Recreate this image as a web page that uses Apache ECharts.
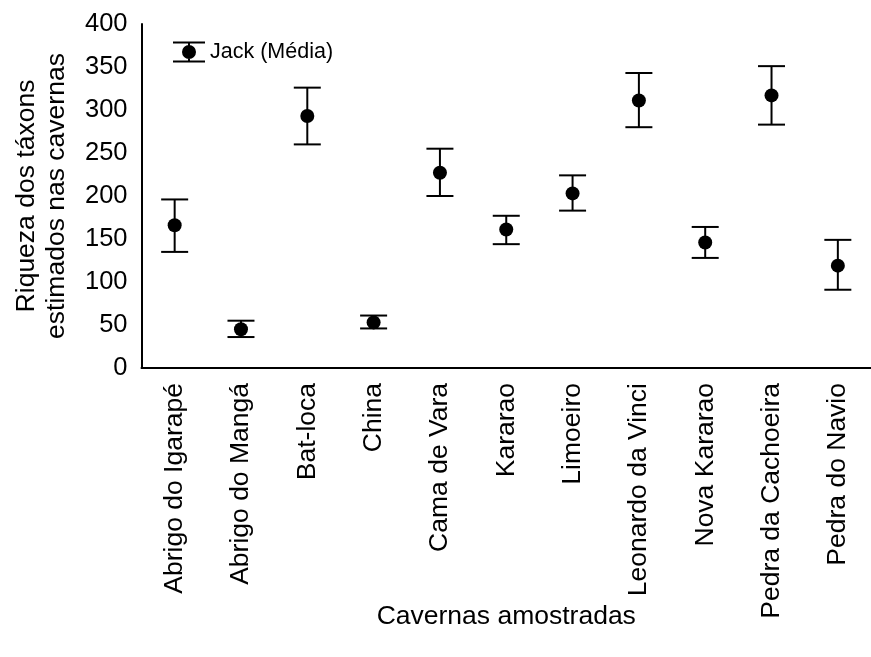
<!DOCTYPE html>
<html>
<head>
<meta charset="utf-8">
<script src="https://cdn.jsdelivr.net/npm/echarts@6/dist/echarts.min.js"></script>
<style>
  html, body { margin: 0; padding: 0; background: #fff; }
  #chart { width: 871px; height: 657px; }
</style>
</head>
<body>
<div id="chart"></div>
<script>
const categories = [
  "Abrigo do Igarapé", "Abrigo do Mangá", "Bat-loca", "China", "Cama de Vara",
  "Kararao", "Limoeiro", "Leonardo da Vinci", "Nova Kararao", "Pedra da Cachoeira", "Pedra do Navio",
];
const meanValues = [166, 45, 293, 53, 227, 161, 203, 311, 146, 317, 119];
const upperValues = [196, 55, 326, 61, 255, 177, 224, 343, 164, 351, 149];
const lowerValues = [135, 36, 260, 46, 200, 144, 183, 280, 128, 283, 91];
const yTicks = [0, 50, 100, 150, 200, 250, 300, 350, 400];

const FONT = "'Liberation Sans', Arial, sans-serif";
// caps, short stem pieces and the dot, drawn as filled shapes
const legendIcon =
  "path://M0,0h32v2H0z M0,19h32v2H0z M15,0h2v4h-2z M15,17h2v4h-2z M9,10.5a7,7 0 1,1 14,0a7,7 0 1,1 -14,0z";

function renderErrorBar(params, api) {
  const idx = api.value(0);
  const low = api.coord([idx, api.value(1)]);
  const high = api.coord([idx, api.value(2)]);
  const half = 13.5;
  const style = { stroke: "#000", lineWidth: 2 };
  return {
    type: "group",
    children: [
      { type: "line", shape: { x1: low[0], y1: low[1], x2: high[0], y2: high[1] }, style },
      { type: "line", shape: { x1: high[0] - half, y1: high[1], x2: high[0] + half, y2: high[1] }, style },
      { type: "line", shape: { x1: low[0] - half, y1: low[1], x2: low[0] + half, y2: low[1] }, style },
    ],
  };
}

const chart = echarts.init(document.getElementById("chart"), null, { renderer: "canvas" });

chart.setOption({
  animation: false,
  backgroundColor: "#fff",
  textStyle: { fontFamily: FONT, color: "#000" },
  grid: { left: 141.5, right: -12, top: 24, bottom: 289, containLabel: false },
  legend: {
    left: 168,
    top: 36,
    itemWidth: 32,
    itemHeight: 21,
    data: [{ name: "Jack (Média)", icon: legendIcon }],
    textStyle: { fontFamily: FONT, fontSize: 21.5, color: "#000" },
    itemStyle: { color: "#000", opacity: 1 },
  },
  xAxis: {
    type: "category",
    data: categories,
    name: "Cavernas amostradas",
    nameLocation: "middle",
    nameGap: 235,
    nameMoveOverlap: false,
    nameTextStyle: { fontFamily: FONT, fontSize: 26.5, color: "#000" },
    axisLine: { lineStyle: { color: "#000", width: 2 } },
    axisTick: { show: false },
    axisLabel: { rotate: 90, interval: 0, margin: 15, fontFamily: FONT, fontSize: 26.5, color: "#000" },
    splitLine: { show: false },
  },
  yAxis: {
    type: "value",
    min: yTicks[0],
    max: yTicks[yTicks.length - 1],
    interval: yTicks[1] - yTicks[0],
    name: "Riqueza dos táxons\nestimados nas cavernas",
    nameLocation: "middle",
    nameGap: 70,
    nameMoveOverlap: false,
    nameTextStyle: { fontFamily: FONT, fontSize: 26.5, lineHeight: 30, color: "#000" },
    axisLine: { show: true, lineStyle: { color: "#000", width: 2 } },
    axisTick: { show: false },
    axisLabel: { margin: 14, fontFamily: FONT, fontSize: 25.5, color: "#000" },
    splitLine: { show: false },
  },
  series: [
    {
      name: "Erro",
      type: "custom",
      renderItem: renderErrorBar,
      data: categories.map((c, i) => [i, lowerValues[i], upperValues[i]]),
      encode: { x: 0, y: [1, 2] },
      z: 2,
      silent: true,
    },
    {
      name: "Jack (Média)",
      type: "scatter",
      data: meanValues,
      symbol: "circle",
      symbolSize: 14,
      itemStyle: { color: "#000", opacity: 1 },
      z: 3,
    },
  ],
});
</script>
</body>
</html>
